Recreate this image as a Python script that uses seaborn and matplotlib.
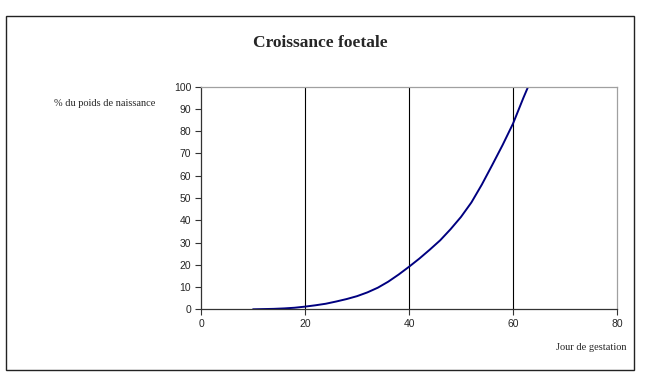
import numpy as np
import seaborn as sns
import matplotlib.pyplot as plt
import pandas as pd
from matplotlib.patches import Rectangle

# valeurs
jours = [10, 12, 14, 16, 18, 20, 22, 24, 26, 28, 30, 32, 34, 36, 38, 40,
         42, 44, 46, 48, 50, 52, 54, 56, 58, 60, 62, 63]
poids = [0.0, 0.1, 0.2, 0.4, 0.7, 1.2, 1.8, 2.5, 3.5, 4.6, 5.9, 7.6, 9.7,
         12.4, 15.6, 19.1, 22.8, 26.8, 31.0, 36.0, 41.5, 48.0, 56.0, 64.8,
         73.8, 83.4, 95.0, 100.5]
x_ticks = [0, 20, 40, 60, 80]
y_ticks = [0, 10, 20, 30, 40, 50, 60, 70, 80, 90, 100]

df = pd.DataFrame({'jour': jours, 'poids': poids})

sns.set_theme(style="white")
plt.rcParams['font.family'] = ['Liberation Sans', 'DejaVu Sans']

fig = plt.figure(figsize=(6.5, 3.81), dpi=100)
ax = fig.add_axes([201/650, 1 - 309.3/381, 416/650, 222.6/381])

sns.lineplot(data=df, x='jour', y='poids', color='#000080', linewidth=1.4, ax=ax)

ax.set_xlim(0, 80)
ax.set_ylim(0, 100)
ax.set_xticks(x_ticks)
ax.set_yticks(y_ticks)
for xv in x_ticks[1:-1]:
    ax.axvline(xv, color='black', linewidth=0.8, zorder=0)

ax.tick_params(axis='both', direction='out', length=4, width=0.8, color='#333333',
               labelsize=7.5, pad=3, bottom=True, left=True)
ax.set_xlabel('')
ax.set_ylabel('')
for side in ['left', 'bottom']:
    ax.spines[side].set_color('#333333')
    ax.spines[side].set_linewidth(0.9)
for side in ['top', 'right']:
    ax.spines[side].set_color('#a0a0a0')
    ax.spines[side].set_linewidth(0.9)

serif = ['Liberation Serif', 'DejaVu Serif']
fig.text(320/650, 1 - 43/381, 'Croissance foetale', family=serif, fontsize=12.5,
         fontweight='bold', ha='center', va='center')
fig.text(155/650, 1 - 104/381, '% du poids de naissance', family=serif, fontsize=7.5,
         ha='right', va='center')
fig.text(626/650, 1 - 347/381, 'Jour de gestation', family=serif, fontsize=7.5,
         ha='right', va='center')

# cadre extérieur
fig.patches.append(Rectangle((6/650, 1 - 370/381), 628/650, 354/381,
                             transform=fig.transFigure, fill=False,
                             edgecolor='#222222', linewidth=1.0))

fig.savefig('out.png', dpi=100)
